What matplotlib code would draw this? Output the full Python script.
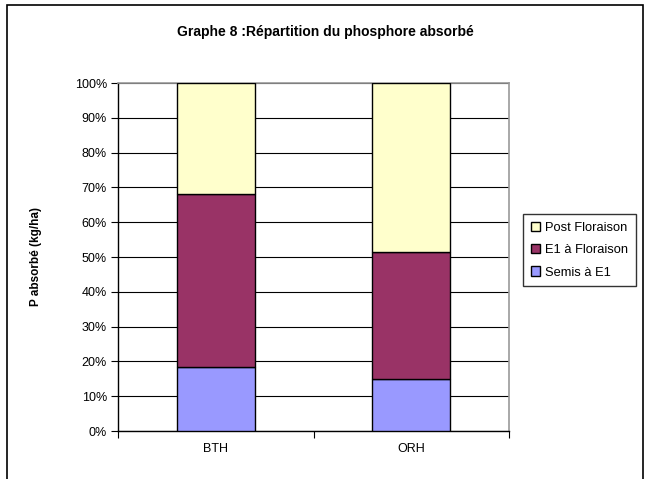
import matplotlib.pyplot as plt
import numpy as np
from matplotlib.patches import Rectangle

plt.rcParams['font.family'] = ['Liberation Sans', 'DejaVu Sans']

categories = ['BTH', 'ORH']
semis_e1 = [18.5, 15.0]
e1_floraison = [49.7, 36.5]
post_floraison = [31.8, 48.5]

series = [
    ('Semis à E1', semis_e1, '#9999FF'),
    ('E1 à Floraison', e1_floraison, '#993366'),
    ('Post Floraison', post_floraison, '#FFFFCC'),
]

W, H = 650, 479
fig = plt.figure(figsize=(W / 100, H / 100), dpi=100)
# plot area in pixels: x 118..509, y 83..431
ax = fig.add_axes([118 / W, 1 - 431 / H, (509 - 118) / W, (431 - 83) / H])

x = np.arange(len(categories))
bottom = np.zeros(len(categories))
handles = []
for name, vals, col in series:
    b = ax.bar(x, vals, width=0.4, bottom=bottom, color=col,
               edgecolor='black', linewidth=1, label=name, zorder=3)
    handles.append(b)
    bottom += np.array(vals)

ax.set_xlim(-0.5, len(categories) - 0.5)
ax.set_ylim(0, 100)
ax.set_yticks(np.arange(0, 101, 10))
ax.set_yticklabels([f'{v}%' for v in range(0, 101, 10)], fontsize=9)
ax.yaxis.grid(True, color='black', linewidth=0.8, zorder=0)

ax.set_xticks(x)
ax.set_xticklabels(categories, fontsize=9)
ax.tick_params(axis='x', length=0, pad=9)
ax.tick_params(axis='y', direction='out', length=5, width=0.8, pad=3)
# category boundary ticks
ax.set_xticks(np.arange(-0.5, len(categories), 1), minor=True)
ax.tick_params(axis='x', which='minor', direction='out', length=5, width=0.8)

for side in ['left', 'bottom']:
    ax.spines[side].set_color('black')
    ax.spines[side].set_linewidth(1)
for side in ['top', 'right']:
    ax.spines[side].set_color('#999999')
    ax.spines[side].set_linewidth(1.2)

fig.text(36 / W, 1 - 257 / H, 'P absorbé (kg/ha)', rotation=90,
         ha='center', va='center', fontsize=8.5, fontweight='bold')

fig.text(325 / W, 1 - 32 / H, 'Graphe 8 :Répartition du phosphore absorbé',
         ha='center', va='center', fontsize=10, fontweight='bold')

leg = fig.legend(handles=handles[::-1], labels=[s[0] for s in series][::-1],
                 loc='upper left', bbox_to_anchor=(523 / W, 1 - 214 / H),
                 fontsize=9.3, frameon=True, fancybox=False, edgecolor='black',
                 handlelength=0.7, handleheight=0.7, handletextpad=0.4,
                 labelspacing=0.8, borderpad=0.6, borderaxespad=0)
leg.get_frame().set_linewidth(1)

# outer chart border
fig.patches.append(Rectangle((7 / W, -0.05), (643 - 7) / W, 1.05 - 5 / H,
                             transform=fig.transFigure, fill=False,
                             edgecolor='black', linewidth=1.2))

fig.savefig('out.png', dpi=100)
